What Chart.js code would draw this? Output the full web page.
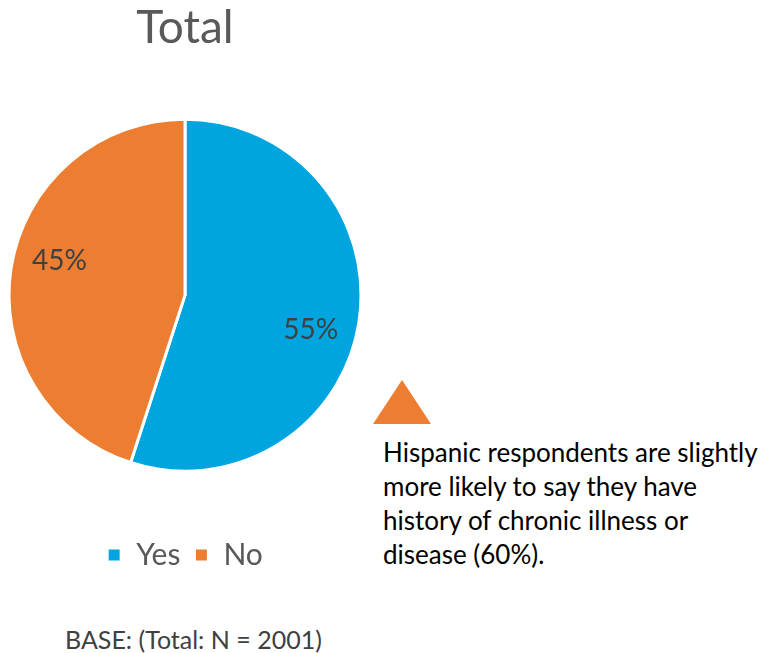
<!DOCTYPE html>
<html>
<head>
<meta charset="utf-8">
<script src="https://cdn.jsdelivr.net/npm/chart.js@4.4.1/dist/chart.umd.min.js"></script>
<style>
  html, body { margin: 0; padding: 0; background: #fff; }
  body { width: 760px; height: 653px; position: relative; overflow: hidden; font-family: Lato, "Open Sans", sans-serif; }
  #pie_box { position: absolute; left: 0; top: -10px; width: 370px; height: 600px; }
  #arrow { position: absolute; left: 373px; top: 380px; width: 0; height: 0;
           border-left: 29px solid transparent; border-right: 29px solid transparent; border-bottom: 44px solid #ED7D31; }
  #note { position: absolute; left: 383px; top: 435px; width: 377px; font-size: 26px; line-height: 34px; color: #000; white-space: nowrap; }
  #base { position: absolute; left: 65px; top: 624px; font-size: 25px; color: #404040; white-space: nowrap; }
</style>
</head>
<body>
<div id="pie_box"><canvas id="total_chart"></canvas></div>
<div id="arrow"></div>
<div id="note">Hispanic respondents are slightly<br>more likely to say they have<br>history of chronic illness or<br>disease (60%).</div>
<div id="base">BASE: (Total: N = 2001)</div>
<script>
const categories = ['Yes', 'No'];
const percent_values = [55, 45];
const slice_colors = ['#00A5E0', '#ED7D31'];

// percent labels sit inside each slice, a little past the middle angle
const slice_labels = {
    id: 'slice_labels',
    afterDatasetsDraw: function (chart) {
        const ctx = chart.ctx;
        const arcs = chart.getDatasetMeta(0).data;
        ctx.save();
        ctx.font = '28px Lato, "Open Sans", sans-serif';
        ctx.fillStyle = '#404040';
        ctx.textAlign = 'center';
        ctx.textBaseline = 'middle';
        arcs.forEach(function (arc, i) {
            const p = arc.getProps(['x', 'y', 'startAngle', 'endAngle', 'outerRadius'], true);
            const mid = (p.startAngle + p.endAngle) / 2 + 0.11;
            const r = p.outerRadius * 0.74;
            ctx.fillText(percent_values[i] + '%', p.x + Math.cos(mid) * r, p.y + Math.sin(mid) * r);
        });
        ctx.restore();
    }
};

const the_chart = new Chart(document.getElementById('total_chart').getContext('2d'), {
    type: 'pie',
    data: {
        labels: categories,
        datasets: [{
            data: percent_values,
            backgroundColor: slice_colors,
            borderColor: '#ffffff',
            borderWidth: 3,
            radius: 176
        }]
    },
    options: {
        responsive: true,
        maintainAspectRatio: false,
        animation: false,
        layout: { padding: { bottom: 10 } },
        plugins: {
            title: {
                display: true,
                text: 'Total',
                color: '#595959',
                font: { family: 'Lato, "Open Sans", sans-serif', size: 46, weight: 'normal', lineHeight: 1.05 },
                padding: { top: 14, bottom: 12 }
            },
            legend: {
                position: 'bottom',
                labels: {
                    color: '#595959',
                    boxWidth: 14,
                    boxHeight: 14,
                    padding: 14,
                    font: { family: 'Lato, "Open Sans", sans-serif', size: 30 }
                }
            },
            tooltip: { enabled: false }
        }
    },
    plugins: [slice_labels]
});
</script>
</body>
</html>
